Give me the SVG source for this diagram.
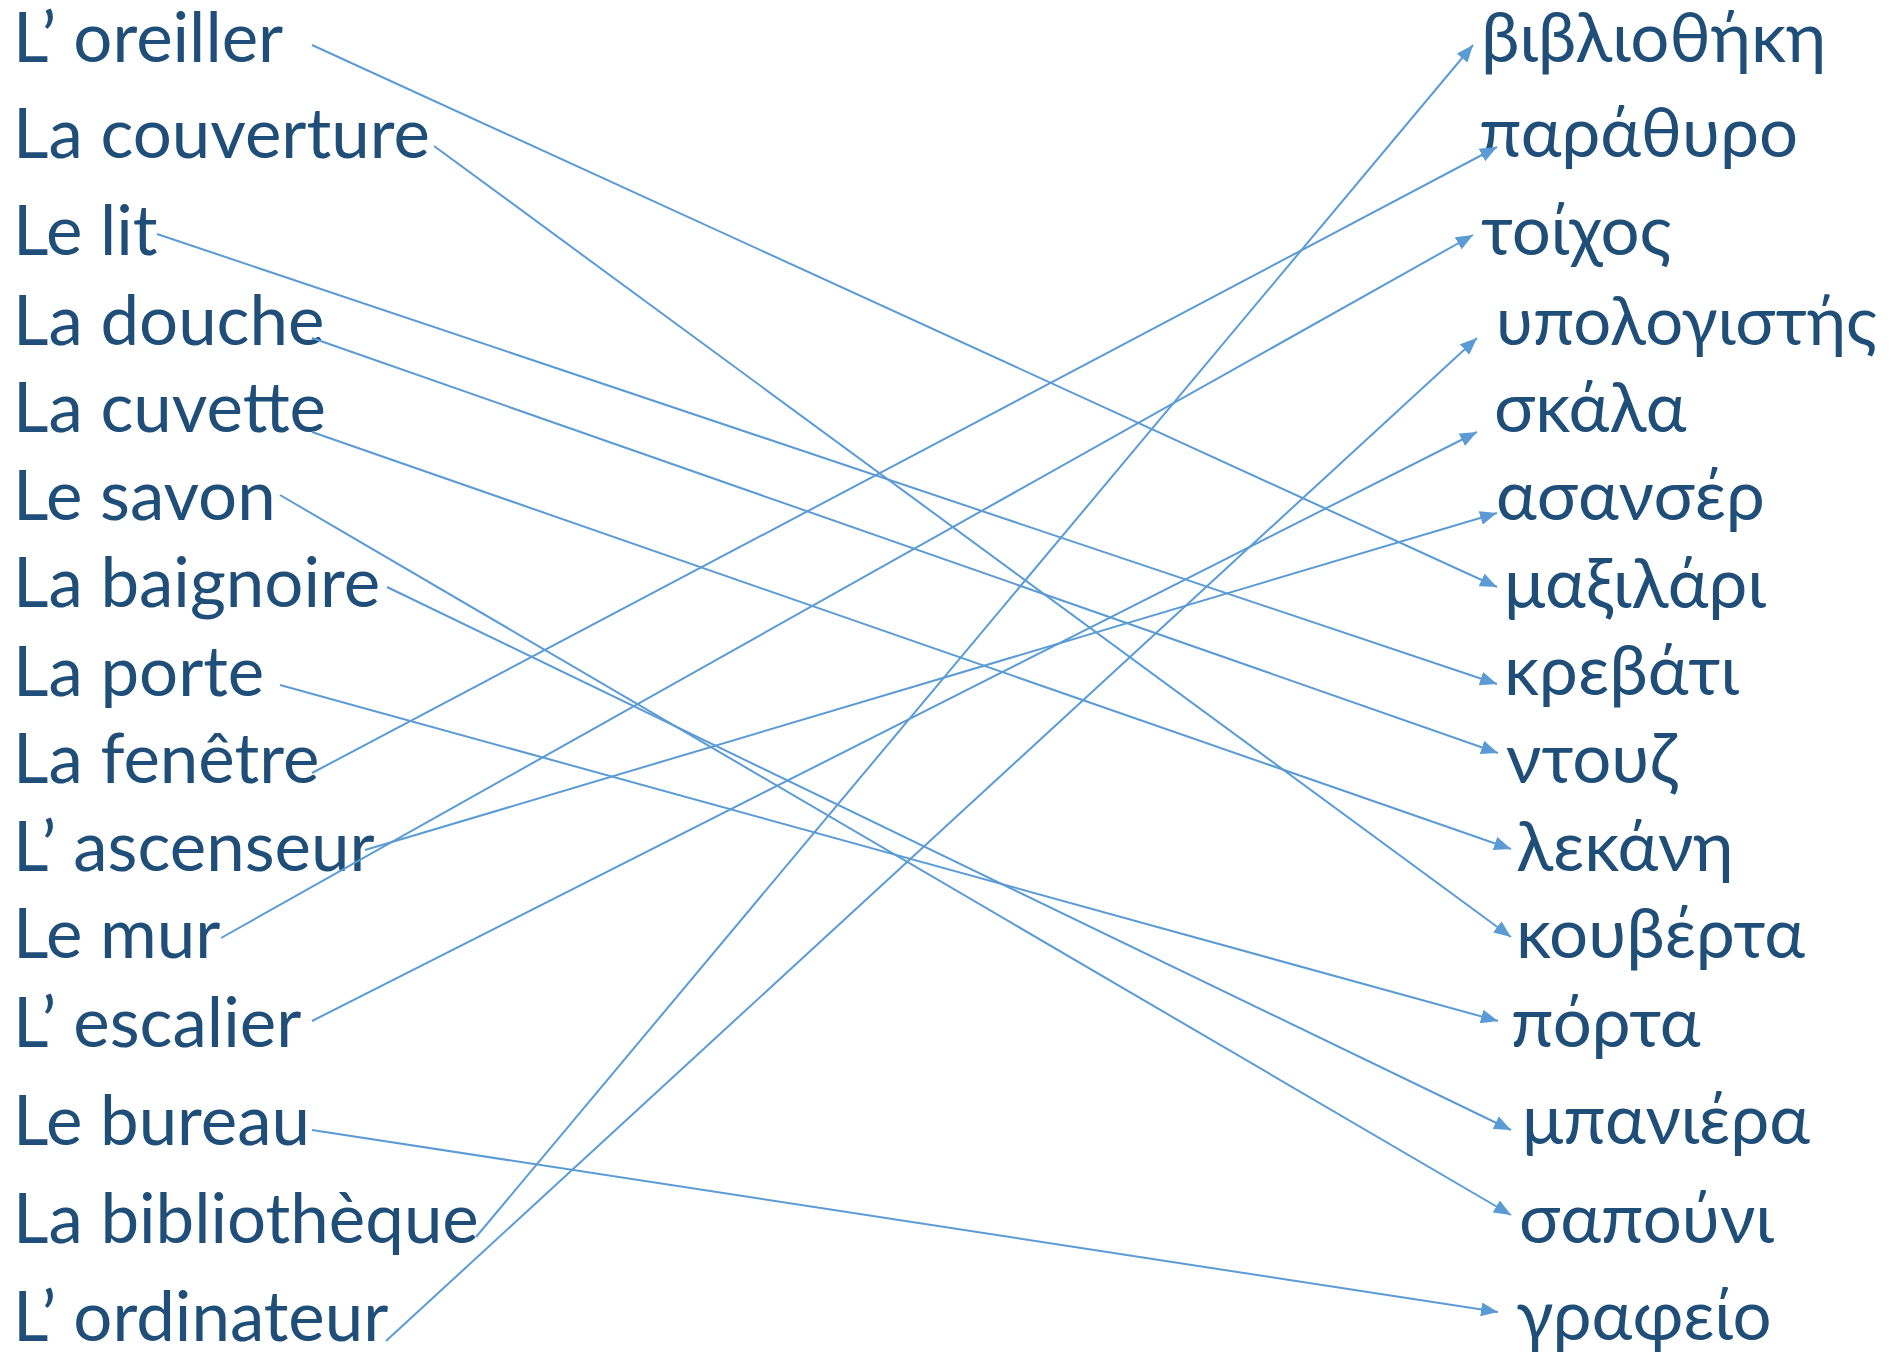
<svg xmlns="http://www.w3.org/2000/svg" width="1891" height="1355" viewBox="0 0 1891 1355">
<style>
.t{font-family:Lato,"Open Sans","Noto Sans",sans-serif;font-size:69px;fill:#1F4E79}
.s{font-size:67px}
.c{stroke:#5B9BD5;stroke-width:2;fill:none;marker-end:url(#ah)}
</style>
<defs>
<marker id="ah" markerUnits="userSpaceOnUse" markerWidth="18" markerHeight="14" refX="17" refY="7" orient="auto">
<path d="M0,0 L17,7 L0,14 Z" fill="#5B9BD5"/>
</marker>
</defs>
<rect width="1891" height="1355" fill="#FFFFFF"/>
<g id="left">
<g id="n-oreiller"><text class="t" x="13" y="62">L’ oreiller</text></g>
<g id="n-couverture"><text class="t" x="13" y="158">La couverture</text></g>
<g id="n-lit"><text class="t" x="13" y="255">Le lit</text></g>
<g id="n-douche"><text class="t" x="13" y="345">La douche</text></g>
<g id="n-cuvette"><text class="t" x="13" y="432">La cuvette</text></g>
<g id="n-savon"><text class="t" x="13" y="520">Le savon</text></g>
<g id="n-baignoire"><text class="t" x="13" y="607">La baignoire</text></g>
<g id="n-porte"><text class="t" x="13" y="696">La porte</text></g>
<g id="n-fenetre"><text class="t" x="13" y="783">La fenêtre</text></g>
<g id="n-ascenseur"><text class="t" x="13" y="871">L’ ascenseur</text></g>
<g id="n-mur"><text class="t" x="13" y="958">Le mur</text></g>
<g id="n-escalier"><text class="t" x="13" y="1047">L’ escalier</text></g>
<g id="n-bureau"><text class="t" x="13" y="1145">Le bureau</text></g>
<g id="n-bibliotheque"><text class="t" x="13" y="1243">La bibliothèque</text></g>
<g id="n-ordinateur"><text class="t" x="13" y="1341">L’ ordinateur</text></g>
</g>
<g id="right">
<g id="n-vivliothiki"><text class="t" x="1481" y="62">βιβλιοθήκη</text></g>
<g id="n-parathyro"><text class="t" x="1479" y="157">παράθυρο</text></g>
<g id="n-toichos"><text class="t" x="1481" y="255">τοίχος</text></g>
<g id="n-ypologistis"><text class="t s" x="1496" y="345">υπολογιστής</text></g>
<g id="n-skala"><text class="t" x="1494" y="432">σκάλα</text></g>
<g id="n-asanser"><text class="t" x="1496" y="520">ασανσέρ</text></g>
<g id="n-maxilari"><text class="t" x="1504" y="608">μαξιλάρι</text></g>
<g id="n-krevati"><text class="t" x="1504" y="695">κρεβάτι</text></g>
<g id="n-ntouz"><text class="t" x="1506" y="783">ντουζ</text></g>
<g id="n-lekani"><text class="t" x="1516" y="871">λεκάνη</text></g>
<g id="n-kouverta"><text class="t" x="1516" y="958">κουβέρτα</text></g>
<g id="n-porta"><text class="t" x="1511" y="1047">πόρτα</text></g>
<g id="n-baniera"><text class="t" x="1522" y="1144">μπανιέρα</text></g>
<g id="n-sapouni"><text class="t" x="1519" y="1243">σαπούνι</text></g>
<g id="n-grafeio"><text class="t" x="1516" y="1340">γραφείο</text></g>
</g>
<g id="connectors">
<line class="c" x1="312" y1="45" x2="1497" y2="587"/>
<line class="c" x1="434" y1="146" x2="1511" y2="937"/>
<line class="c" x1="157" y1="234" x2="1497" y2="684"/>
<line class="c" x1="312" y1="338" x2="1498" y2="753"/>
<line class="c" x1="312" y1="432" x2="1511" y2="849"/>
<line class="c" x1="280" y1="495" x2="1511" y2="1215"/>
<line class="c" x1="387" y1="587" x2="1511" y2="1130"/>
<line class="c" x1="280" y1="685" x2="1498" y2="1021"/>
<line class="c" x1="312" y1="773" x2="1497" y2="147"/>
<line class="c" x1="365" y1="850" x2="1497" y2="513"/>
<line class="c" x1="221" y1="938" x2="1473" y2="235"/>
<line class="c" x1="312" y1="1021" x2="1477" y2="432"/>
<line class="c" x1="312" y1="1130" x2="1498" y2="1312"/>
<line class="c" x1="476" y1="1237" x2="1473" y2="45"/>
<line class="c" x1="386" y1="1341" x2="1477" y2="338"/>
</g>
</svg>
